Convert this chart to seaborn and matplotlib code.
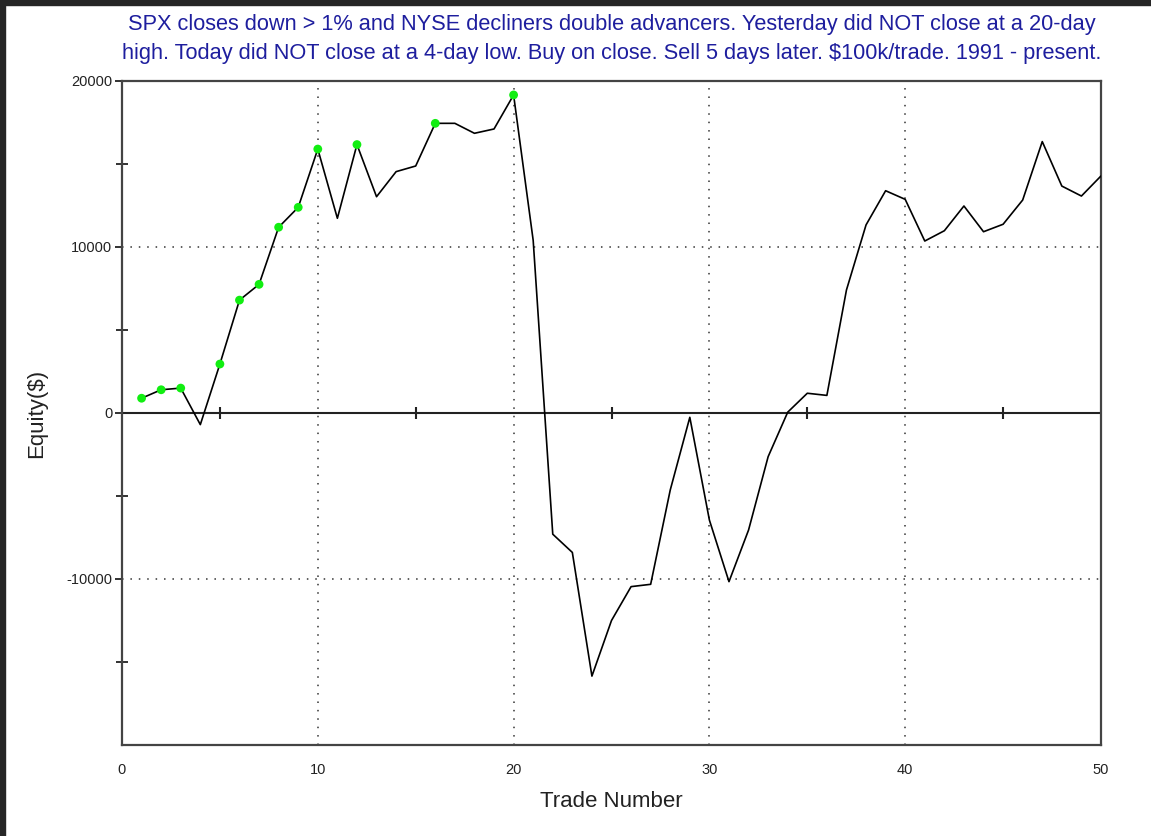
import matplotlib
matplotlib.use("Agg")
import matplotlib.pyplot as plt
import seaborn as sns
import pandas as pd
from matplotlib.patches import Rectangle

# ---- data ----
trade_number = list(range(1, 51))
equity = [890, 1400, 1500, -700, 2950, 6800, 7750, 11190, 12390, 15900,
          11730, 16170, 13030, 14540, 14880, 17450, 17450, 16850, 17110, 19160,
          10400, -7300, -8400, -15850, -12500, -10460, -10320, -4640, -260, -6450,
          -10160, -7050, -2630, 50, 1190, 1060, 7410, 11330, 13390, 12870,
          10360, 10980, 12470, 10920, 11370, 12830, 16350, 13670, 13070, 14280]
new_high_trades = [1, 2, 3, 5, 6, 7, 8, 9, 10, 12, 16, 20]
x_ticks = [0, 10, 20, 30, 40, 50]
x_minor = [5, 15, 25, 35, 45]
y_ticks = [-10000, 0, 10000, 20000]
y_minor = [-15000, -5000, 5000, 15000]
title = ("SPX closes down > 1% and NYSE decliners double advancers. Yesterday did NOT close at a 20-day\n"
         "high. Today did NOT close at a 4-day low. Buy on close. Sell 5 days later. $100k/trade. 1991 - present.")

df = pd.DataFrame({"trade": trade_number, "equity": equity})
hi = df[df["trade"].isin(new_high_trades)]

sns.set_theme(style="white")
plt.rcParams["font.family"] = ["Liberation Sans", "DejaVu Sans"]

fig = plt.figure(figsize=(11.51, 8.36), dpi=100)
ax = fig.add_axes([122/1151, 1-745/836, (1101-122)/1151, (745-81)/836])

# grid (dotted)
for gx in [10, 20, 30, 40]:
    ax.axvline(gx, color="#333333", lw=1.1, ls=(0, (1, 4.5)), zorder=1)
for gy in [-10000, 10000]:
    ax.axhline(gy, color="#333333", lw=1.1, ls=(0, (1, 4.5)), zorder=1)
ax.axhline(0, color="#222222", lw=1.5, zorder=2)
ax.plot(x_minor, [0]*len(x_minor), ls="none", marker="|", markersize=9,
        markeredgewidth=1.5, color="#222222", zorder=2)

sns.lineplot(data=df, x="trade", y="equity", color="black", lw=1.2, ax=ax, zorder=3)
sns.scatterplot(data=hi, x="trade", y="equity", color="#11ee11", s=40,
                edgecolor="none", ax=ax, zorder=4)

ax.set_xlim(0, 50)
ax.set_ylim(-20000, 20000)
ax.set_xticks(x_ticks)
ax.set_xticklabels([str(v) for v in x_ticks])
ax.set_yticks(y_ticks)
ax.set_yticklabels([str(v) for v in y_ticks])
ax.set_yticks(y_minor, minor=True)
ax.tick_params(axis="x", which="major", length=0, pad=13, labelsize=10.5,
               labelcolor="#222222")
ax.tick_params(axis="y", which="major", length=5, width=1.3, direction="out",
               color="#222222", left=True, pad=2, labelsize=10.5, labelcolor="#222222")
ax.tick_params(axis="y", which="minor", length=8, width=1.3, direction="inout",
               color="#222222", left=True)

for s in ax.spines.values():
    s.set_color("#444444")
    s.set_linewidth(1.6)
    s.set_visible(True)

ax.set_xlabel("Trade Number", fontsize=16, color="#222222", labelpad=10)
ax.set_ylabel("Equity($)", fontsize=16, color="#222222", labelpad=14)
ax.set_title(title, fontsize=15.7, color="#1e1e9e", pad=16, linespacing=1.5, x=0.5)

# figure frame (top and left dark borders)
fig.patches.append(Rectangle((0, 1-5/836), 1, 5/836, transform=fig.transFigure,
                             color="#262626", zorder=10))
fig.patches.append(Rectangle((0, 0), 5/1151, 1, transform=fig.transFigure,
                             color="#262626", zorder=10))

fig.savefig("out.png", dpi=100)
